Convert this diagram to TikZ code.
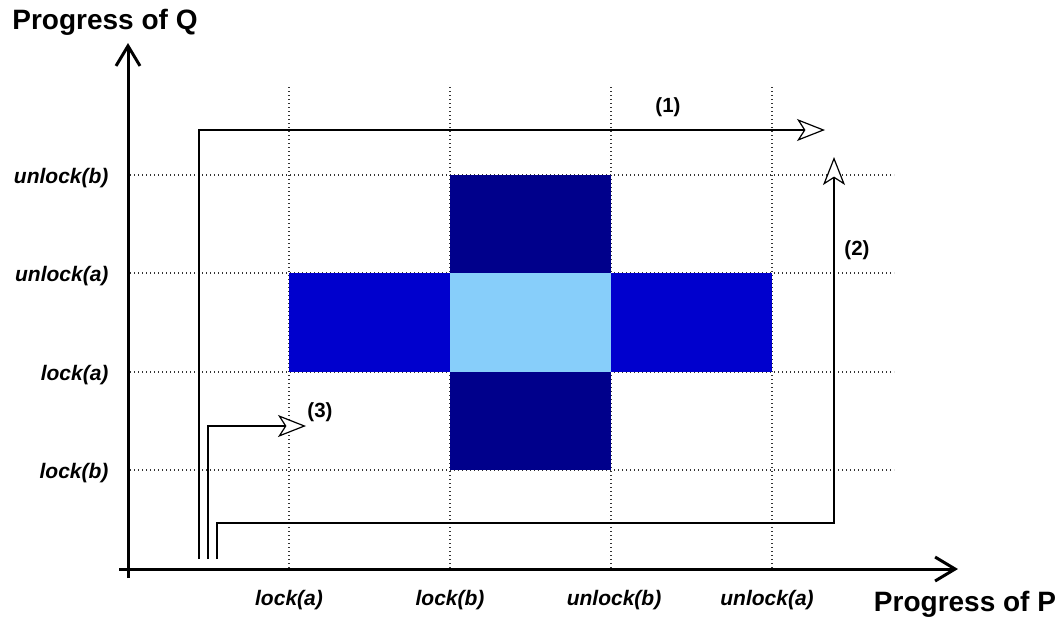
\documentclass[tikz,border=0pt]{standalone}
\usepackage{fontspec}
\setmainfont{Liberation Sans}
\usetikzlibrary{arrows.meta}

\definecolor{navy}{RGB}{0,0,139}
\definecolor{midblue}{RGB}{0,0,205}
\definecolor{paleblue}{RGB}{135,206,250}

\tikzset{
  gridline/.style={draw=black!80,line width=1.1pt,dash pattern=on 1.3pt off 2.7pt},
  axis/.style={line width=3pt,-{Straight Barb[length=20pt,width=24pt]}},
  route/.style={line width=1.2pt,-{Stealth[open,length=28pt,width=22pt,inset=7pt,fill=white]}},
  title/.style={font=\fontsize{28}{28}\selectfont\bfseries},
  tick/.style={font=\fontsize{21}{21}\selectfont\bfseries\itshape},
  num/.style={font=\fontsize{20.5}{20.5}\selectfont\bfseries}
}

\begin{document}
\begin{tikzpicture}[x=1pt,y=-1pt]
      \useasboundingbox (0,0) rectangle (1059,619);

      % grid
      \foreach \x in {289,450,611,772}
        \draw[gridline] (\x,87) -- (\x,569);
      \foreach \y in {175,273,372,470}
        \draw[gridline] (130,\y) -- (894,\y);

      % forbidden regions
      \fill[navy] (450,175) rectangle (611,273);
      \fill[navy] (450,372) rectangle (611,470);
      \fill[midblue] (289,273) rectangle (772,372);
      \fill[paleblue] (450,273) rectangle (611,372);

      % axes
      \coordinate (ybot) at (128,578);
      \coordinate (ytop) at (128,43);
      \coordinate (xleft) at (119,569);
      \coordinate (xright) at (958,569);
      \draw[axis] (ybot) -- (ytop);
      \draw[axis] (xleft) -- (xright);

      \node[title] (q) at (105,22) {Progress of Q};
      \node[title] (p) at (965,604) {Progress of P};

      % ticks
      \node[tick] (pla) at (289,600) {lock(a)};
      \node[tick] (plb) at (450,600) {lock(b)};
      \node[tick] (pub) at (614,600) {unlock(b)};
      \node[tick] (pua) at (767,600) {unlock(a)};
      \node[tick,anchor=east] (qub) at (112,178) {unlock(b)};
      \node[tick,anchor=east] (qua) at (112,276) {unlock(a)};
      \node[tick,anchor=east] (qla) at (112,375) {lock(a)};
      \node[tick,anchor=east] (qlb) at (112,473) {lock(b)};

      % paths
      \coordinate (s1) at (199,559);
      \coordinate (c1) at (199,130);
      \coordinate (e1) at (825,130);
      \draw[route] (s1) -- (c1) -- (e1);
      \node[num] (n1) at (668,107) {(1)};

      \coordinate (s2) at (217,559);
      \coordinate (c2) at (217,523);
      \coordinate (d2) at (834,523);
      \coordinate (e2) at (834,157);
      \draw[route] (s2) -- (c2) -- (d2) -- (e2);
      \node[num] (n2) at (857,250) {(2)};

      \coordinate (s3) at (208,559);
      \coordinate (c3) at (208,426);
      \coordinate (e3) at (306,426);
      \draw[route] (s3) -- (c3) -- (e3);
      \node[num] (n3) at (320,412) {(3)};
    \end{tikzpicture}
\end{document}
